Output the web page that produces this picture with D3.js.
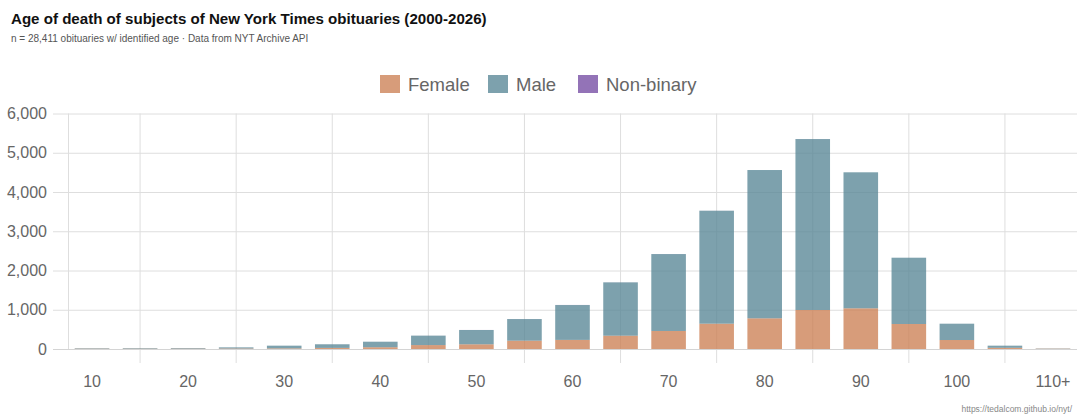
<!DOCTYPE html>
<html>
<head>
<meta charset="utf-8">
<script src="https://cdn.jsdelivr.net/npm/d3@7"></script>
<style>
  body { margin: 0; background: #fff; }
  svg { display: block; font-family: "Liberation Sans", Arial, Helvetica, sans-serif; }
</style>
</head>
<body>
<div class="chart"></div>
<script>
// age bins (5 years each), the last one is open ended
var ages = ["10", "15", "20", "25", "30", "35", "40", "45", "50", "55", "60",
  "65", "70", "75", "80", "85", "90", "95", "100", "105", "110+"];
var female = [8, 8, 10, 12, 15, 28, 45, 100, 120, 212, 232,
  339, 459, 645, 782, 994, 1037, 637, 229, 30, 8];
var male = [12, 14, 15, 30, 70, 92, 141, 240, 364, 551, 888,
  1359, 1960, 2878, 3778, 4355, 3465, 1689, 416, 55, 7];
var nonbinary = [0, 0, 0, 0, 0, 1, 0, 1, 1, 1, 2,
  1, 1, 1, 0, 1, 0, 0, 0, 0, 0];
var yTicks = [0, 1000, 2000, 3000, 4000, 5000, 6000];
var xTickLabels = ["10", "20", "30", "40", "50", "60", "70", "80", "90", "100", "110+"];

var seriesNames = ["Female", "Male", "Non-binary"];
var colors = {
  "Female": "rgba(204,128,84,0.78)",
  "Male": "rgba(88,135,150,0.78)",
  "Non-binary": "rgba(128,90,170,0.85)"
};

var svgWidth = 1080;
var svgHeight = 419;
var plot = { left: 68, right: 1077, top: 113.5, bottom: 349 };

var svg = d3.select(".chart")
  .append("svg")
  .attr("width", svgWidth)
  .attr("height", svgHeight);

// build rows for the stack
var rows = ages.map(function(a, i) {
  return { age: a, "Female": female[i], "Male": male[i], "Non-binary": nonbinary[i] };
});

var x = d3.scaleBand()
  .domain(ages)
  .range([plot.left, plot.right])
  .paddingInner(0.28)
  .paddingOuter(0.14);

var y = d3.scaleLinear()
  .domain([0, 6000])
  .range([plot.bottom, plot.top]);

var gridColor = "#dedede";

// horizontal grid + y labels
var yAxis = d3.axisLeft(y)
  .tickValues(yTicks)
  .tickSize(-(plot.right - 53))
  .tickPadding(6)
  .tickFormat(d3.format(","));

var yg = svg.append("g")
  .attr("transform", "translate(53,0)")
  .call(yAxis);
yg.select(".domain").remove();
yg.selectAll("line").attr("stroke", gridColor).attr("x1", 0).attr("x2", plot.right - 53);
yg.selectAll("text")
  .attr("fill", "#666")
  .style("font-size", "16px")
  .attr("x", -6);

// vertical grid lines sit on the unlabelled bins (between the shown labels)
var vLines = ages.filter(function(a, i) { return i % 2 === 1; });
svg.append("g").selectAll("line")
  .data(vLines)
  .enter()
  .append("line")
  .attr("x1", d => x(d) + x.bandwidth() / 2)
  .attr("x2", d => x(d) + x.bandwidth() / 2)
  .attr("y1", plot.top)
  .attr("y2", plot.bottom + 14)
  .attr("stroke", gridColor);

// left border
svg.append("line")
  .attr("x1", plot.left + 0.5).attr("x2", plot.left + 0.5)
  .attr("y1", plot.top).attr("y2", plot.bottom)
  .attr("stroke", gridColor);

// stacked bars
var stacked = d3.stack().keys(seriesNames)(rows);

svg.append("g").selectAll("g")
  .data(stacked)
  .enter()
  .append("g")
  .attr("fill", d => colors[d.key])
  .selectAll("rect")
  .data(d => d)
  .enter()
  .append("rect")
  .attr("x", d => x(d.data.age))
  .attr("width", x.bandwidth())
  .attr("y", d => y(d[1]))
  .attr("height", d => y(d[0]) - y(d[1]));

// baseline
svg.append("line")
  .attr("x1", 53).attr("x2", plot.right)
  .attr("y1", plot.bottom + 0.5).attr("y2", plot.bottom + 0.5)
  .attr("stroke", "#d4d4d4");

// x labels
svg.append("g").selectAll("text")
  .data(xTickLabels)
  .enter()
  .append("text")
  .attr("x", d => x(d) + x.bandwidth() / 2)
  .attr("y", 387)
  .attr("text-anchor", "middle")
  .attr("fill", "#666")
  .style("font-size", "16px")
  .text(d => d);

// legend
var legendItems = [
  { name: "Female", x: 380 },
  { name: "Male", x: 488 },
  { name: "Non-binary", x: 578 }
];
var legend = svg.append("g");
legend.selectAll("rect")
  .data(legendItems)
  .enter()
  .append("rect")
  .attr("x", d => d.x)
  .attr("y", 75)
  .attr("width", 20)
  .attr("height", 18)
  .attr("fill", d => colors[d.name]);
legend.selectAll("text")
  .data(legendItems)
  .enter()
  .append("text")
  .attr("x", d => d.x + 28)
  .attr("y", 90.5)
  .attr("fill", "#666")
  .style("font-size", "18.5px")
  .text(d => d.name);

// title + subtitle
svg.append("text")
  .attr("x", 11)
  .attr("y", 24)
  .style("font-size", "15.1px")
  .style("font-weight", "bold")
  .attr("fill", "#111")
  .text("Age of death of subjects of New York Times obituaries (2000-2026)");

svg.append("text")
  .attr("x", 11)
  .attr("y", 42)
  .style("font-size", "10px")
  .attr("fill", "#555")
  .text("n = 28,411 obituaries w/ identified age \u00b7 Data from NYT Archive API");

svg.append("text")
  .attr("x", 1072)
  .attr("y", 412)
  .attr("text-anchor", "end")
  .style("font-size", "8.5px")
  .attr("fill", "#888")
  .text("https://tedalcom.github.io/nyt/");
</script>
</body>
</html>
